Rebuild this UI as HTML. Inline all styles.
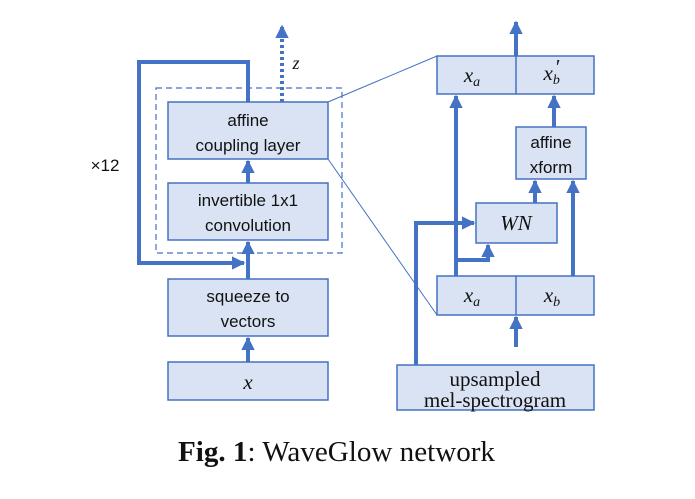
<!DOCTYPE html>
<html><head><style>html,body{margin:0;padding:0;background:#fff}</style></head><body>
<svg width="695" height="494" viewBox="0 0 695 494" xmlns="http://www.w3.org/2000/svg">
<defs>
<marker id="a" viewBox="0 0 10 10" refX="9" refY="5" markerWidth="3.4" markerHeight="3.4" orient="auto"><path d="M0,0L10,5L0,10z" fill="#4472c4"/></marker>
</defs>
<g fill="#dae3f3" stroke="#4472c4" stroke-width="1.5">
<rect x="168" y="102" width="160" height="57"/>
<rect x="168" y="183" width="160" height="57"/>
<rect x="168" y="279" width="160" height="57"/>
<rect x="168" y="362" width="160" height="38"/>
<rect x="437" y="56" width="157" height="38"/>
<rect x="516" y="127" width="70" height="52"/>
<rect x="476" y="203" width="81" height="40"/>
<rect x="437" y="276" width="157" height="39"/>
<rect x="397" y="365" width="197" height="45"/>
</g>
<g stroke="#4472c4" stroke-width="1.5">
<line x1="516" y1="56" x2="516" y2="94"/>
<line x1="516" y1="276" x2="516" y2="315"/>
</g>
<rect x="156" y="88" width="186" height="165" fill="none" stroke="#4472c4" stroke-width="1.2" stroke-dasharray="6,4"/>
<g stroke="#4472c4" stroke-width="1">
<line x1="328" y1="102" x2="437" y2="56"/>
<line x1="328" y1="159" x2="437" y2="315"/>
</g>
<g fill="none" stroke="#4472c4" stroke-width="4">
<path d="M248,102V62H139V263H244" marker-end="url(#a)"/>
<path d="M248,279V242" marker-end="url(#a)"/>
<path d="M248,183V161" marker-end="url(#a)"/>
<path d="M248,362V338" marker-end="url(#a)"/>
<path d="M282,102V26" stroke-dasharray="3,3" marker-end="url(#a)"/>
<path d="M516,56V22" marker-end="url(#a)"/>
<path d="M456,276V96" marker-end="url(#a)"/>
<path d="M456,260H488V245" marker-end="url(#a)"/>
<path d="M416,365V223H474" marker-end="url(#a)"/>
<path d="M573,276V181" marker-end="url(#a)"/>
<path d="M535,203V181" marker-end="url(#a)"/>
<path d="M554,127V96" marker-end="url(#a)"/>
<path d="M516,347V317" marker-end="url(#a)"/>
</g>
<g font-family="'Liberation Sans',sans-serif" font-size="17" fill="#111" text-anchor="middle">
<text x="248" y="126">affine</text>
<text x="248" y="151">coupling layer</text>
<text x="248" y="206">invertible 1x1</text>
<text x="248" y="231">convolution</text>
<text x="248" y="302">squeeze to</text>
<text x="248" y="327">vectors</text>
<text x="551" y="148">affine</text>
<text x="551" y="173">xform</text>
<text x="105" y="171">×12</text>
</g>
<g font-family="'Liberation Serif',serif" font-style="italic" font-size="21" fill="#111" text-anchor="middle">
<text x="248" y="389">x</text>
<text x="296" y="69" font-size="18">z</text>
<text x="472" y="82">x<tspan font-size="14" dy="4">a</tspan></text>
<text x="552" y="80">x<tspan font-size="14" dy="4">b</tspan><tspan dy="-10" dx="-4" font-style="normal">′</tspan></text>
<text x="516" y="230">WN</text>
<text x="472" y="302">x<tspan font-size="14" dy="4">a</tspan></text>
<text x="552" y="302">x<tspan font-size="14" dy="4">b</tspan></text>
</g>
<g font-family="'Liberation Serif',serif" font-size="21" fill="#111" text-anchor="middle">
<text x="495" y="386">upsampled</text>
<text x="495" y="407">mel-spectrogram</text>
</g>
<text x="178" y="461" font-family="'Liberation Serif',serif" font-size="28" fill="#111" textLength="317" lengthAdjust="spacingAndGlyphs"><tspan font-weight="bold">Fig. 1</tspan>: WaveGlow network</text>
</svg>
</body></html>
